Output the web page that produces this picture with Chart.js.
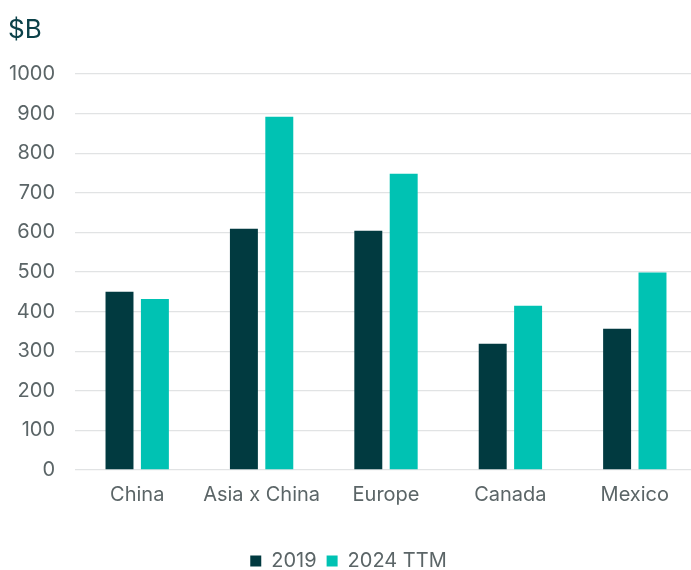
<!DOCTYPE html>
<html>
<head>
<meta charset="utf-8">
<script src="https://cdn.jsdelivr.net/npm/chart.js@4"></script>
<style>
  html, body { margin: 0; padding: 0; background: #fff; overflow: hidden; }
  #wrap { width: 700px; height: 570px; }
</style>
</head>
<body>
<div id="wrap"><canvas id="c" width="700" height="570"></canvas></div>
<script>
const categories = ['China', 'Asia x China', 'Europe', 'Canada', 'Mexico'];
const series2019 = [450, 609, 604, 319, 357];
const series2024 = [432, 892, 748, 415, 499];
const seriesLabels = ['2019', '2024 TTM'];
const yTicks = [0, 100, 200, 300, 400, 500, 600, 700, 800, 900, 1000];
const unitLabel = '$B';

const FONT = 'Inter, "Noto Sans", sans-serif';
const TICK_COLOR = '#5b6567';

const unitPlugin = {
  id: 'unitLabel',
  afterDraw(chart) {
    const ctx = chart.ctx;
    ctx.save();
    ctx.font = '26px ' + FONT;
    ctx.fillStyle = '#0b4149';
    ctx.textBaseline = 'alphabetic';
    ctx.textAlign = 'left';
    ctx.fillText(unitLabel, 8, 38);
    ctx.restore();
  }
};

new Chart(document.getElementById('c'), {
  type: 'bar',
  data: {
    labels: categories,
    datasets: [
      { label: seriesLabels[0], data: series2019, backgroundColor: '#013a40',
        categoryPercentage: 0.569, barPercentage: 0.79 },
      { label: seriesLabels[1], data: series2024, backgroundColor: '#00c2b3',
        categoryPercentage: 0.569, barPercentage: 0.79 }
    ]
  },
  options: {
    responsive: false,
    animation: false,
    devicePixelRatio: 1,
    layout: { padding: { top: 74, left: 0, right: 3, bottom: -11 } },
    plugins: {
      title: { display: false },
      tooltip: { enabled: false },
      legend: {
        display: true,
        position: 'bottom',
        labels: {
          color: TICK_COLOR,
          font: { family: FONT, size: 20 },
          boxWidth: 11,
          boxHeight: 11,
          padding: 10
        }
      }
    },
    scales: {
      x: {
        grid: { display: false, drawTicks: false },
        border: { display: false },
        ticks: { color: TICK_COLOR, font: { family: FONT, size: 20 }, padding: 13 },
        afterFit(scale) { scale.height = 71; }
      },
      y: {
        min: 0,
        max: 1000,
        afterBuildTicks(scale) { scale.ticks = yTicks.map(v => ({ value: v })); },
        grid: { color: '#e1e3e4', lineWidth: 1.3, drawTicks: false },
        border: { display: false },
        ticks: {
          color: TICK_COLOR, font: { family: FONT, size: 20 }, padding: 20,
          callback: (v) => String(v)
        },
        afterFit(scale) { scale.width = 75; }
      }
    }
  },
  plugins: [unitPlugin]
});
</script>
</body>
</html>
